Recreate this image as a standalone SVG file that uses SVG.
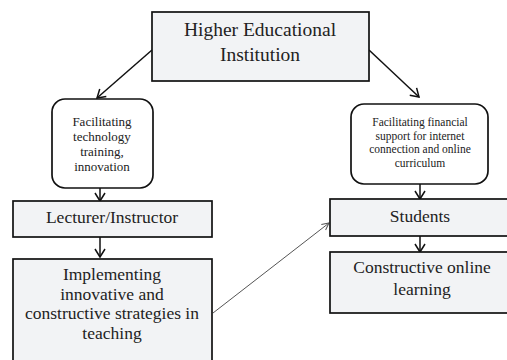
<svg xmlns="http://www.w3.org/2000/svg" width="507" height="360" viewBox="0 0 507 360">
<style>
.box{fill:#f2f3f5;stroke:#111;stroke-width:1.7}
.rbox{fill:#fff;stroke:#111;stroke-width:1.7}
.lbl{font-family:'Liberation Serif','Times New Roman',serif;fill:#222;text-anchor:middle}
.t19{font-size:19.5px}
.t16{font-size:17.5px}
.t12{font-size:13px}
.t11{font-size:11.5px}
.conn{stroke:#111;stroke-width:1.5;fill:none}
.thin{stroke:#555;stroke-width:1;fill:none}
</style>
<defs>
<marker id="ah" markerWidth="12" markerHeight="12" refX="10" refY="6" orient="auto" markerUnits="userSpaceOnUse">
<polyline points="2,1 10,6 2,11" fill="none" stroke="#111" stroke-width="1.5"/>
</marker>
<marker id="ahs" markerWidth="10" markerHeight="10" refX="9" refY="5" orient="auto" markerUnits="userSpaceOnUse">
<polyline points="2,1.5 9,5 2,8.5" fill="none" stroke="#555" stroke-width="1"/>
</marker>
</defs>
<g id="connectors">
<line class="conn" x1="152" y1="50" x2="97" y2="98" marker-end="url(#ah)"/>
<line class="conn" x1="369" y1="50" x2="419" y2="97" marker-end="url(#ah)"/>
<line class="conn" x1="100" y1="188" x2="100" y2="201" marker-end="url(#ah)"/>
<line class="conn" x1="100" y1="237" x2="100" y2="257" marker-end="url(#ah)"/>
<line class="conn" x1="420" y1="184" x2="420" y2="199" marker-end="url(#ah)"/>
<line class="conn" x1="420" y1="236" x2="420" y2="252" marker-end="url(#ah)"/>
<line class="thin" x1="213" y1="313" x2="329" y2="223" marker-end="url(#ahs)"/>
</g>
<g id="hei">
<rect class="box" x="152" y="12" width="217" height="69"/>
<text class="lbl t19" x="260" y="36">Higher Educational</text>
<text class="lbl t19" x="260" y="61">Institution</text>
</g>
<g id="tech">
<rect class="rbox" x="52" y="99" width="101" height="89" rx="13"/>
<text class="lbl t12" x="102" y="126">Facilitating</text>
<text class="lbl t12" x="102" y="141">technology</text>
<text class="lbl t12" x="102" y="156">training,</text>
<text class="lbl t12" x="102" y="171">innovation</text>
</g>
<g id="fin">
<rect class="rbox" x="351" y="104" width="137" height="80" rx="13"/>
<text class="lbl t11" x="420" y="126">Facilitating financial</text>
<text class="lbl t11" x="420" y="139.5">support for internet</text>
<text class="lbl t11" x="420" y="153">connection and online</text>
<text class="lbl t11" x="420" y="166.5">curriculum</text>
</g>
<g id="lecturer">
<rect class="box" x="13" y="201" width="199" height="36"/>
<text class="lbl t16" x="112" y="223">Lecturer/Instructor</text>
</g>
<g id="implementing">
<rect class="box" x="13" y="259" width="199" height="110"/>
<text class="lbl t16" x="112" y="280">Implementing</text>
<text class="lbl t16" x="112" y="300">innovative and</text>
<text class="lbl t16" x="112" y="319">constructive strategies in</text>
<text class="lbl t16" x="112" y="339">teaching</text>
</g>
<g id="students">
<rect class="box" x="330" y="199" width="185" height="37"/>
<text class="lbl t16" x="420" y="222">Students</text>
</g>
<g id="online">
<rect class="box" x="330" y="252" width="185" height="61"/>
<text class="lbl t16" x="422" y="273">Constructive online</text>
<text class="lbl t16" x="422" y="295">learning</text>
</g>
</svg>
